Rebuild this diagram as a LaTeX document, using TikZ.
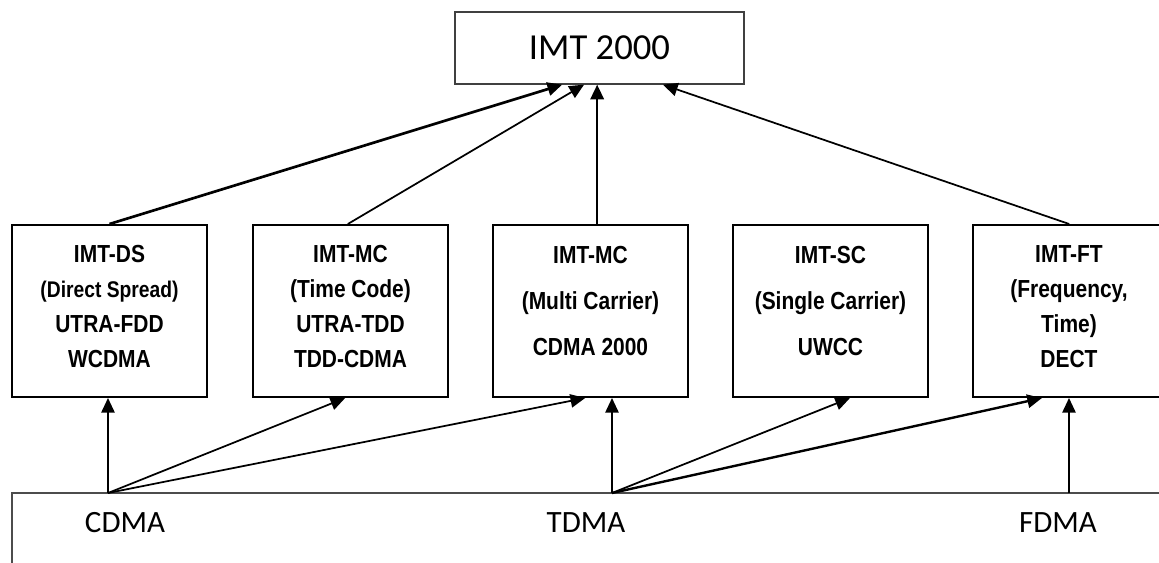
\documentclass[tikz,border=0pt]{standalone}
\usepackage{fontspec}
\setmainfont{Carlito}
\newfontfamily\boxfont[FakeStretch=0.85]{Liberation Sans}
\usetikzlibrary{arrows.meta}

\begin{document}
\begin{tikzpicture}[x=0.75pt,y=-0.75pt,
  imtbox/.style={draw,line width=1.5pt,minimum width=146pt,minimum height=129pt,inner sep=0pt},
  boxtext/.style={align=center,font=\boxfont\bfseries\fontsize{18.5}{26.25}\selectfont},
  widetext/.style={align=center,font=\boxfont\bfseries\fontsize{18.5}{34.5}\selectfont},
  feed/.style={-{Triangle[length=11pt,width=10pt]},line width=1.3pt},
  access/.style={font=\fontsize{23.25}{28}\selectfont}]
\useasboundingbox (0,0) rectangle (1159,563);
\clip (0,0) rectangle (1159,563);
\node[draw=black!75,line width=1pt,minimum width=216.75pt,minimum height=54pt,font=\fontsize{27.5}{33}\selectfont] (imt) at (599.5,48) {IMT 2000};
\foreach \n/\x in {ds/109.5,tc/350.5,mc/590.5,sc/830.5,ft/1070.5}{\node[imtbox] (\n) at (\x,311) {};}
\node[boxtext] (dstext) at (109.5,307) {IMT-DS\\{\fontsize{17}{20}\selectfont(Direct Spread)}\\UTRA-FDD\\WCDMA};
\node[boxtext] (tctext) at (350.5,307) {IMT-MC\\(Time Code)\\UTRA-TDD\\TDD-CDMA};
\node[widetext] (mctext) at (590.5,301) {IMT-MC\\(Multi Carrier)\\CDMA 2000};
\node[widetext] (sctext) at (830.5,301) {IMT-SC\\(Single Carrier)\\UWCC};
\node[boxtext] (fttext) at (1069,307) {IMT-FT\\(Frequency,\\Time)\\DECT};
% access line
\draw[black!70,line width=1pt] (12,563) -- (12,493) -- (1159,493);
\coordinate (cdma) at (108,493);
\coordinate (tdma) at (612,493);
\coordinate (fdma) at (1069,493);
\node[access] (cdmalbl) at (125,523) {CDMA};
\node[access] (tdmalbl) at (586,523) {TDMA};
\node[access] (fdmalbl) at (1058,523) {FDMA};
% up to IMT 2000
\draw[feed,line width=2pt] (ds.north) -- ([xshift=-28pt]imt.south);
\draw[feed] ([xshift=-2pt]tc.north) -- ([xshift=-11.6pt]imt.south);
\draw[feed,line width=1.8pt] ([xshift=5pt]mc.north) -- ([xshift=5pt]mc.north |- imt.south);
\draw[feed] ([xshift=-1pt]ft.north) -- ([xshift=47.6pt]imt.south);
% from the access schemes
\draw[feed] (cdma) -- (cdma |- ds.south);
\draw[feed] (cdma) -- ([xshift=-4pt]tc.south);
\draw[feed] (cdma) -- ([xshift=-4pt]mc.south);
\draw[feed] (tdma) -- (tdma |- mc.south);
\draw[feed] (tdma) -- ([xshift=14.6pt]sc.south);
\draw[feed,line width=1.8pt] (tdma) -- ([xshift=-21.4pt]ft.south);
\draw[feed] (fdma) -- (fdma |- ft.south);
\end{tikzpicture}
\end{document}
